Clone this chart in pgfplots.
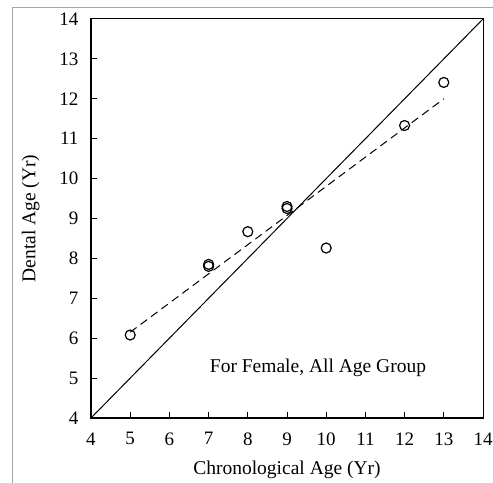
\documentclass[border=0pt]{standalone}
\usepackage{pgfplots}
\pgfplotsset{compat=1.18}
\usepackage{fontspec}
\setmainfont{Liberation Serif}
\begin{document}
\begin{tikzpicture}
\useasboundingbox (-91bp,-65bp) rectangle (402bp,418bp);
\draw[line width=1bp, black!35] (-78bp,-70bp) -- (-78bp,410bp) -- (410bp,410bp);
\begin{axis}[
  at={(0,0)}, anchor=origin,
  scale only axis, width=392bp, height=399bp,
  xmin=4, xmax=14, ymin=4, ymax=14,
  xtick={4,5,...,14}, ytick={4,5,...,14},
  tick pos=left, tick align=inside,
  major tick length=6bp,
  every tick/.style={line width=1bp, black},
  axis line style={line width=1bp},
  /pgf/number format/assume math mode=true,
  ticklabel style={font=\fontsize{19bp}{22bp}\selectfont},
  xticklabel style={yshift=-11bp},
  yticklabel style={xshift=-9bp},
  xlabel={Chronological Age (Yr)},
  ylabel={Dental Age (Yr)},
  label style={font=\fontsize{19.5bp}{22bp}\selectfont},
  xlabel style={at={(axis description cs:0.5,-0.130)}, anchor=center},
  ylabel style={at={(axis description cs:-0.154,0.5)}, anchor=center, rotate=0},
  clip=false,
]
\addplot[black, line width=1bp] coordinates {(4,4) (14,14)};
\addplot[black, line width=1bp, dash pattern=on 8bp off 5bp] coordinates {(5,6.15) (13,12.0)};
\addplot[only marks, mark=o, mark size=5bp, mark options={line width=1.2bp, black}] coordinates {
 (5,6.08) (7,7.8) (7,7.85) (8,8.67) (9,9.25) (9,9.3) (10,8.26) (12,11.33) (13,12.41)
};
\node[font=\fontsize{19.5bp}{22bp}\selectfont] at (axis cs:9.79,5.25) {For Female,\ All Age Group};
\draw[line width=1.7bp] (rel axis cs:0,1) -- (rel axis cs:0,0) -- (rel axis cs:1,0);
\end{axis}
\end{tikzpicture}
\end{document}
